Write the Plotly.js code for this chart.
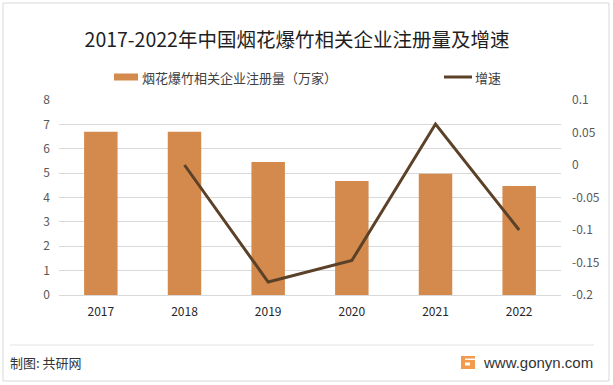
<!DOCTYPE html>
<html>
<head>
<meta charset="utf-8">
<script src="https://cdn.plot.ly/plotly-3.0.1.min.js"></script>
<style>html,body{margin:0;padding:0;background:#fff;}#chart{width:613px;height:385px;}</style>
</head>
<body>
<div id="chart"></div>
<script>
const years = ['2017', '2018', '2019', '2020', '2021', '2022'];
const registrations = [6.7, 6.7, 5.46, 4.68, 4.97, 4.47];
const growth = [null, 0.0, -0.18, -0.147, 0.063, -0.1];
const leftTicks = [0, 1, 2, 3, 4, 5, 6, 7, 8];
const rightTickVals = [0.1, 0.05, 0, -0.05, -0.1, -0.15, -0.2];
const rightTickText = ['0.1', '0.05', '0', '-0.05', '-0.1', '-0.15', '-0.2'];
const barName = '烟花爆竹相关企业注册量（万家）';
const lineName = '增速';
const titleText = '2017-2022年中国烟花爆竹相关企业注册量及增速';

const FONT = '"Microsoft YaHei", "Noto Sans CJK SC", "Noto Sans", sans-serif';
const W = 613, H = 385;
const L = 59, R = 561, T = 100, B = 295;
const px = x => (x - L) / (R - L);
const py = y => (B - y) / (B - T);

const traces = [
  {
    type: 'bar', x: years, y: registrations, name: barName,
    marker: {color: '#D38A4C'}, yaxis: 'y', hoverinfo: 'x+y'
  },
  {
    type: 'scatter', mode: 'lines', x: years, y: growth, name: lineName,
    line: {color: '#5C4129', width: 3}, yaxis: 'y2', connectgaps: false
  }
];

const layout = {
  width: W, height: H,
  margin: {l: L, r: W - R, t: T, b: H - B, pad: 0},
  paper_bgcolor: '#fff', plot_bgcolor: '#fff',
  font: {family: FONT, size: 12, color: '#595959'},
  showlegend: false,
  bargap: 0.6,
  title: {
    text: titleText, x: 297 / W, xanchor: 'center', y: 1 - 40 / H, yanchor: 'middle',
    xref: 'container', yref: 'container',
    font: {family: FONT, size: 19.5, color: '#1f1f1f'}
  },
  xaxis: {
    type: 'category', showgrid: false, zeroline: false, showline: false,
    ticks: '', tickfont: {size: 12, color: '#262626'}, ticklabelstandoff: 8
  },
  yaxis: {
    range: [0, 8], tickvals: leftTicks, showgrid: true, gridcolor: '#D9D9D9', gridwidth: 1,
    zeroline: true, zerolinecolor: '#D9D9D9', zerolinewidth: 1, showline: false, ticks: '',
    tickfont: {size: 12, color: '#595959'}, ticklabelstandoff: 8
  },
  yaxis2: {
    overlaying: 'y', side: 'right', range: [-0.2, 0.1],
    tickvals: rightTickVals, ticktext: rightTickText,
    showgrid: false, zeroline: false, showline: false, ticks: '',
    tickfont: {size: 12, color: '#595959'}, ticklabelstandoff: 10
  },
  shapes: [
    {type: 'rect', xref: 'paper', yref: 'paper', x0: px(3), x1: px(609), y0: py(381), y1: py(3),
     line: {color: '#D9D9D9', width: 1}, fillcolor: 'rgba(0,0,0,0)', layer: 'below'},
    {type: 'rect', xref: 'paper', yref: 'paper', x0: px(114), x1: px(138), y0: py(80.5), y1: py(73.5),
     line: {width: 0}, fillcolor: '#D38A4C'},
    {type: 'line', xref: 'paper', yref: 'paper', x0: px(444), x1: px(472), y0: py(77), y1: py(77),
     line: {color: '#5C4129', width: 3}},
    {type: 'line', xref: 'paper', yref: 'paper', x0: px(10), x1: px(594), y0: py(345), y1: py(345),
     line: {color: '#E3E3E3', width: 1}},
    {type: 'rect', xref: 'paper', yref: 'paper', x0: px(461), x1: px(475), y0: py(369), y1: py(356),
     line: {width: 0}, fillcolor: '#F29A4E'},
    {type: 'rect', xref: 'paper', yref: 'paper', x0: px(465), x1: px(475), y0: py(360), y1: py(358.5),
     line: {width: 0}, fillcolor: '#ffffff'},
    {type: 'rect', xref: 'paper', yref: 'paper', x0: px(465), x1: px(470), y0: py(365.5), y1: py(362.5),
     line: {width: 0}, fillcolor: '#ffffff'}
  ],
  annotations: [
    {xref: 'paper', yref: 'paper', x: px(140), y: py(77), xanchor: 'left', yanchor: 'middle',
     text: barName, showarrow: false, font: {family: FONT, size: 13, color: '#404040'}},
    {xref: 'paper', yref: 'paper', x: px(473), y: py(77), xanchor: 'left', yanchor: 'middle',
     text: lineName, showarrow: false, font: {family: FONT, size: 13, color: '#404040'}},
    {xref: 'paper', yref: 'paper', x: px(8), y: py(362), xanchor: 'left', yanchor: 'middle',
     text: '制图: 共研网', showarrow: false, font: {family: FONT, size: 13, color: '#333333'}},
    {xref: 'paper', yref: 'paper', x: px(595), y: py(362), xanchor: 'right', yanchor: 'middle',
     text: 'www.gonyn.com', showarrow: false, font: {family: '"Liberation Sans", Arial, sans-serif', size: 15, color: '#333333'}}
  ]
};

Plotly.newPlot('chart', traces, layout, {staticPlot: true, displayModeBar: false});
</script>
</body>
</html>
